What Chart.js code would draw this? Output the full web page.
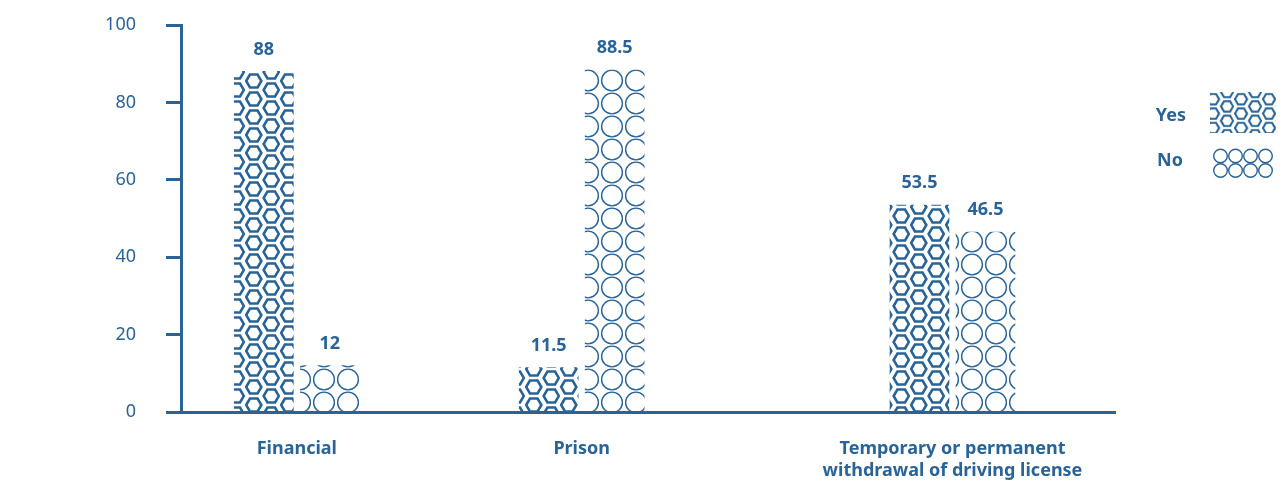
<!DOCTYPE html>
<html>
<head>
<meta charset="utf-8">
<script src="https://cdn.jsdelivr.net/npm/chart.js@4.4.1/dist/chart.umd.min.js"></script>
<style>
  html, body { margin: 0; padding: 0; background: #fff; }
  #wrap { width: 1288px; height: 503px; }
</style>
</head>
<body>
<div id="wrap"><canvas id="chart"></canvas></div>
<script>
// Chart data
const categories = [['Financial'], ['Prison'], ['Temporary or permanent', 'withdrawal of driving license']];
const seriesNames = ['Yes', 'No'];
const yesValues = [88, 11.5, 53.5];
const noValues = [12, 88.5, 46.5];
const yTicks = [0, 20, 40, 60, 80, 100];

const ink = '#2a6496';
const fontFamily = "'Noto Sans', sans-serif";

// groups are not evenly spaced in the original, so x is a 0-100 linear axis
const groupX = [12.4, 42.9, 82.6];

// --- pattern tiles ---
function hexPattern(ctx) {
  const c = document.createElement('canvas');
  c.width = 35; c.height = 18;
  const g = c.getContext('2d');
  g.strokeStyle = ink;
  g.lineWidth = 2.6;
  const hex = (cx, cy) => {
    const r = 7.6, h = 6.5;
    g.beginPath();
    g.moveTo(cx - r, cy);
    g.lineTo(cx - r / 2, cy - h);
    g.lineTo(cx + r / 2, cy - h);
    g.lineTo(cx + r, cy);
    g.lineTo(cx + r / 2, cy + h);
    g.lineTo(cx - r / 2, cy + h);
    g.closePath();
    g.stroke();
  };
  hex(8.75, 9);
  hex(26.25, 0);
  hex(26.25, 18);
  return ctx.createPattern(c, 'repeat');
}

function circlePattern(ctx) {
  const c = document.createElement('canvas');
  c.width = 24; c.height = 23;
  const g = c.getContext('2d');
  g.strokeStyle = ink;
  g.lineWidth = 1.4;
  g.beginPath();
  g.arc(12, 11.5, 10.4, 0, Math.PI * 2);
  g.stroke();
  return ctx.createPattern(c, 'repeat');
}

const canvas = document.getElementById('chart');
const ctx = canvas.getContext('2d');
const yesFill = hexPattern(ctx);
const noFill = circlePattern(ctx);

// value labels over each bar
const barLabels = {
  id: 'barLabels',
  afterDatasetsDraw(chart) {
    const c = chart.ctx;
    c.save();
    c.font = 'bold 18px ' + fontFamily;
    c.fillStyle = ink;
    c.textAlign = 'center';
    c.textBaseline = 'middle';
    chart.data.datasets.forEach((ds, di) => {
      chart.getDatasetMeta(di).data.forEach((bar, i) => {
        c.fillText(String(ds.data[i].y), bar.x, bar.y - 22);
      });
    });
    c.restore();
  }
};

// legend on the right: label first, then pattern swatch
const sideLegend = {
  id: 'sideLegend',
  afterDraw(chart) {
    const c = chart.ctx;
    const names = chart.data.datasets.map(d => d.label);
    c.save();
    c.font = 'bold 18px ' + fontFamily;
    c.fillStyle = ink;
    c.textAlign = 'right';
    c.textBaseline = 'middle';
    c.fillText(names[0], 1186, 116);
    c.fillText(names[1], 1183, 161);

    // Yes swatch: smaller honeycomb
    c.save();
    c.beginPath();
    c.rect(1210, 92, 66, 41);
    c.clip();
    c.translate(1206, 92);
    c.scale(0.8, 0.8);
    c.fillStyle = yesFill;
    c.fillRect(0, 0, 90, 60);
    c.restore();

    // No swatch: 4 x 2 small circles
    c.strokeStyle = ink;
    c.lineWidth = 1.4;
    for (let r = 0; r < 2; r++) {
      for (let k = 0; k < 4; k++) {
        c.beginPath();
        c.arc(1220.5 + k * 15, 156 + r * 14.5, 6.8, 0, Math.PI * 2);
        c.stroke();
      }
    }
    c.restore();
  }
};

new Chart(ctx, {
  type: 'bar',
  data: {
    datasets: [
      {
        label: seriesNames[0],
        data: yesValues.map((v, i) => ({ x: groupX[i], y: v })),
        backgroundColor: yesFill,
        borderWidth: 0
      },
      {
        label: seriesNames[1],
        data: noValues.map((v, i) => ({ x: groupX[i], y: v })),
        backgroundColor: noFill,
        borderWidth: 0
      }
    ]
  },
  options: {
    responsive: true,
    maintainAspectRatio: false,
    animation: false,
    barThickness: 66,
    maxBarThickness: 59,
    layout: { padding: { top: 25, right: 173, left: 0, bottom: 0 } },
    plugins: {
      legend: { display: false },
      tooltip: { enabled: false }
    },
    scales: {
      x: {
        type: 'linear',
        min: 0,
        max: 100,
        offset: false,
        afterBuildTicks: scale => { scale.ticks = groupX.map(v => ({ value: v })); },
        afterFit: scale => { scale.height = 91; },
        grid: { display: false, drawTicks: false },
        border: { display: true, color: ink, width: 3 },
        ticks: {
          autoSkip: false,
          maxRotation: 0,
          padding: 26,
          color: ink,
          font: { family: fontFamily, size: 18, weight: 'bold', lineHeight: 1.22 },
          callback: (val, i) => categories[i]
        }
      },
      y: {
        min: 0,
        max: 100,
        afterBuildTicks: scale => { scale.ticks = yTicks.map(v => ({ value: v })); },
        afterFit: scale => {
          scale.width = 181;
          // the tick padding would otherwise push the plot area down
          scale.paddingTop = 0;
          scale.paddingBottom = 0;
        },
        grid: { drawOnChartArea: false, drawTicks: true, tickLength: 15, tickWidth: 3, tickColor: ink },
        border: { display: true, color: ink, width: 3 },
        ticks: {
          padding: 30,
          color: ink,
          font: { family: fontFamily, size: 18 }
        }
      }
    }
  },
  plugins: [barLabels, sideLegend]
});
</script>
</body>
</html>
